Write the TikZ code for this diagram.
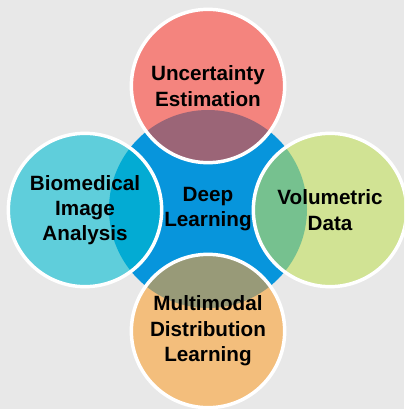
\documentclass[tikz,border=0pt]{standalone}
\usepackage{fontspec}
\setmainfont{Liberation Sans}

\definecolor{bggray}{HTML}{E8E8E8}
\definecolor{hubblue}{HTML}{0795DC}
\definecolor{uncred}{HTML}{F4847E}
\definecolor{uncmix}{HTML}{9B6577}
\definecolor{biocyan}{HTML}{5FCEDB}
\definecolor{biomix}{HTML}{03ABD3}
\definecolor{volgreen}{HTML}{D1E394}
\definecolor{volmix}{HTML}{76C18F}
\definecolor{mmorange}{HTML}{F3BE7C}
\definecolor{mmmix}{HTML}{989A78}

\newcommand{\labelfont}{\bfseries\fontsize{15.5}{19}\selectfont}

\tikzset{
  hub/.style={circle, inner sep=0pt, minimum size=148.5pt, fill=hubblue,
    align=center, font=\labelfont, text=black},
  bubble/.style 2 args={circle, inner sep=0pt, minimum size=115pt,
    fill=#1, draw=white, line width=2.6pt, align=center, font=\labelfont,
    text=black,
    path picture={\fill[#2] (dl.center) circle[radius=74.25pt];}},
}

\begin{document}
\begin{tikzpicture}[x=0.75pt, y=-0.75pt]

	\fill[bggray] (0,0) rectangle (404,409);
	\useasboundingbox (0,0) rectangle (404,409);
	\clip (0,0) rectangle (404,409);

	% centre
	\node[hub] (dl) at (208,209) {Deep\\Learning};

	% four topics round it
	\node[bubble={uncred}{uncmix}] (unc) at (208,86) {Uncertainty\\Estimation};
	\node[bubble={biocyan}{biomix}] (bio) at (85,210) {Biomedical\\Image\\Analysis};
	\node[bubble={volgreen}{volmix}] (vol) at (330,210) {Volumetric\\Data};
	\node[bubble={mmorange}{mmmix}] (mm) at (208,331) {Multimodal\\Distribution\\Learning};

\end{tikzpicture}
\end{document}
